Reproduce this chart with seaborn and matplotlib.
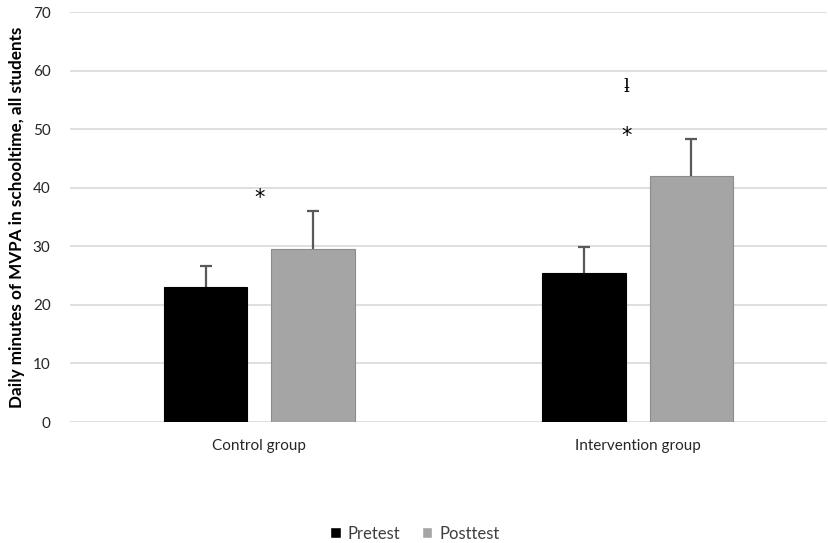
import matplotlib
matplotlib.use("Agg")
import matplotlib.pyplot as plt
import seaborn as sns
import pandas as pd
import numpy as np

groups = ["Control group", "Intervention group"]
tests = ["Pretest", "Posttest"]
pretest_means = [23.1, 25.4]
posttest_means = [29.6, 42.0]
pretest_err = [3.6, 4.5]
posttest_err = [6.5, 6.3]
star_y = [38.2, 48.9]
cross_y = [None, 57.2]

rows = []
for i, g in enumerate(groups):
    rows.append({"group": g, "test": "Pretest", "value": pretest_means[i], "err": pretest_err[i]})
    rows.append({"group": g, "test": "Posttest", "value": posttest_means[i], "err": posttest_err[i]})
df = pd.DataFrame(rows)

sns.set_theme(style="white")
plt.rcParams['font.family'] = ['Lato', 'DejaVu Sans']

fig = plt.figure(figsize=(8.29, 5.43), dpi=100)
ax = fig.add_axes([0.0845, 0.2228, 0.913, 0.755])

palette = {"Pretest": "#000000", "Posttest": "#A5A5A5"}
sns.barplot(data=df, x="group", y="value", hue="test", hue_order=tests,
            order=groups, palette=palette, width=0.568, gap=0.22,
            errorbar=None, ax=ax, saturation=1, zorder=3)

# edges and error bars (upper only, Excel style)
for cont, t in zip(ax.containers, tests):
    sub = df[df.test == t].set_index("group").loc[groups]
    for bar, (g, r) in zip(cont.patches, sub.iterrows()):
        bar.set_edgecolor("#8C8C8C" if t == "Posttest" else "#000000")
        bar.set_linewidth(0.8)
        xc = bar.get_x() + bar.get_width() / 2
        eb = ax.errorbar([xc], [r.value], yerr=[[0], [r.err]], fmt="none",
                         ecolor="#595959", elinewidth=1.6, capsize=4,
                         capthick=1.6, zorder=2.5)
        for cl in eb[1]:
            if np.allclose(cl.get_ydata(), r.value):
                cl.set_visible(False)

# significance marks
for i, g in enumerate(groups):
    dx = 0.0 if i == 0 else -0.03
    ax.text(i + dx, star_y[i], "*", ha="center", va="center", fontsize=15,
            family="DejaVu Sans", color="#000000")
    if cross_y[i] is not None:
        ax.text(i + dx, cross_y[i], "ƚ", ha="center", va="center", fontsize=13,
                family="DejaVu Serif", color="#000000")

ax.set_ylim(0, 70)
ax.set_xlim(-0.5, 1.5)
ax.set_yticks(np.arange(0, 71, 10))
ax.yaxis.grid(True, color="#D9D9D9", linewidth=1.2, zorder=0)
ax.set_axisbelow(True)
for s in ax.spines.values():
    s.set_visible(False)
ax.tick_params(axis="both", length=0, labelsize=11, colors="#262626")
ax.tick_params(axis="x", pad=12)
ax.tick_params(axis="y", pad=14)
ax.set_xlabel("")
ax.set_ylabel("Daily minutes of MVPA in schooltime, all students", fontsize=12.3,
              fontweight="bold", color="#000000", labelpad=6)

handles, labels = ax.get_legend_handles_labels()
ax.legend(handles, labels, loc="lower center", bbox_to_anchor=(0.5, -0.025),
          bbox_transform=fig.transFigure, ncol=2, frameon=False,
          handlelength=0.65, handleheight=0.65, handletextpad=0.4,
          columnspacing=1.3, fontsize=12, labelcolor="#404040")

fig.savefig("out.png", dpi=100)
